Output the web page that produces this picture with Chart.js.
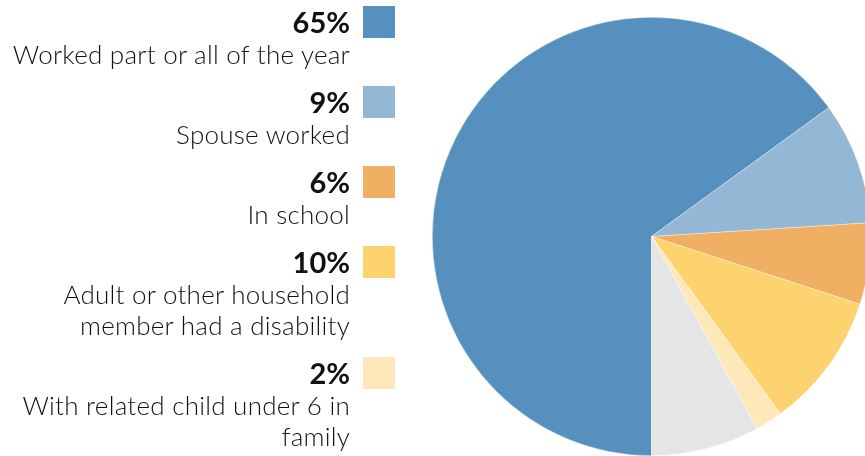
<!DOCTYPE html>
<html>
<head>
<meta charset="utf-8">
<script src="https://cdn.jsdelivr.net/npm/chart.js@4/dist/chart.umd.min.js"></script>
<style>
  html, body { margin: 0; padding: 0; background: #fff; }
  #wrap { position: relative; width: 865px; height: 456px; overflow: hidden; }
  #pie { position: absolute; left: 0; top: 0; }
  #key {
    position: absolute; left: 0; top: 8px; width: 395px;
    font-family: Lato, "Open Sans", sans-serif; color: #111;
  }
  .item { position: relative; padding-right: 45px; text-align: right; margin-bottom: 18px; }
  .item .pct { font-weight: 700; font-size: 29px; line-height: 32px; margin-top: -2px; }
  .item .lbl { font-size: 26px; font-weight: 300; letter-spacing: 0.25px; line-height: 31px; margin-top: 1px; }
  .item .sw { position: absolute; right: 0; top: 0; width: 32px; height: 32px; }
</style>
</head>
<body>
<div id="wrap">
  <canvas id="pie"></canvas>
  <div id="key"></div>
</div>
<script>
"use strict"

//Slices, clockwise from the bottom of the pie
const reasons = [
  ["Worked part or all of the year"],
  ["Spouse worked"],
  ["In school"],
  ["Adult or other household", "member had a disability"],
  ["With related child under 6 in", "family"],
  [] // remainder, no key entry
];
const shares = [65, 9, 6, 10, 2, 8];
const sliceColors = ["#5590bf", "#93b7d5", "#f0b064", "#fdd36f", "#fde8b9", "#e5e5e5"];

//Key on the left, built from the same arrays
const key = document.getElementById("key");
for (let i = 0; i < reasons.length; i++) {
  if (reasons[i].length === 0) continue;
  const item = document.createElement("div");
  item.className = "item";
  const sw = document.createElement("div");
  sw.className = "sw";
  sw.style.background = sliceColors[i];
  const pct = document.createElement("div");
  pct.className = "pct";
  pct.textContent = shares[i] + "%";
  item.appendChild(sw);
  item.appendChild(pct);
  for (let j = 0; j < reasons[i].length; j++) {
    const lbl = document.createElement("div");
    lbl.className = "lbl";
    if (j > 0) lbl.style.marginTop = "0px";
    lbl.textContent = reasons[i][j];
    item.appendChild(lbl);
  }
  key.appendChild(item);
}

//Canvas runs past the right and bottom edge so the pie gets clipped
const canvas = document.getElementById("pie");
canvas.width = 880;
canvas.height = 470;
canvas.style.width = "880px";
canvas.style.height = "470px";

const data = {
  labels: reasons.map(r => r.join(" ")),
  datasets: [{
    data: shares,
    backgroundColor: sliceColors,
    borderColor: "rgba(255,255,255,0.6)",
    borderWidth: 0.6
  }]
};

const config = {
  type: "pie",
  data: data,
  options: {
    responsive: false,
    animation: false,
    rotation: 180,
    layout: { padding: { left: 432, top: 17, right: 9, bottom: 14 } },
    plugins: {
      legend: { display: false },
      tooltip: { enabled: false }
    }
  }
};

const pieChart = new Chart(canvas, config);
</script>
</body>
</html>
